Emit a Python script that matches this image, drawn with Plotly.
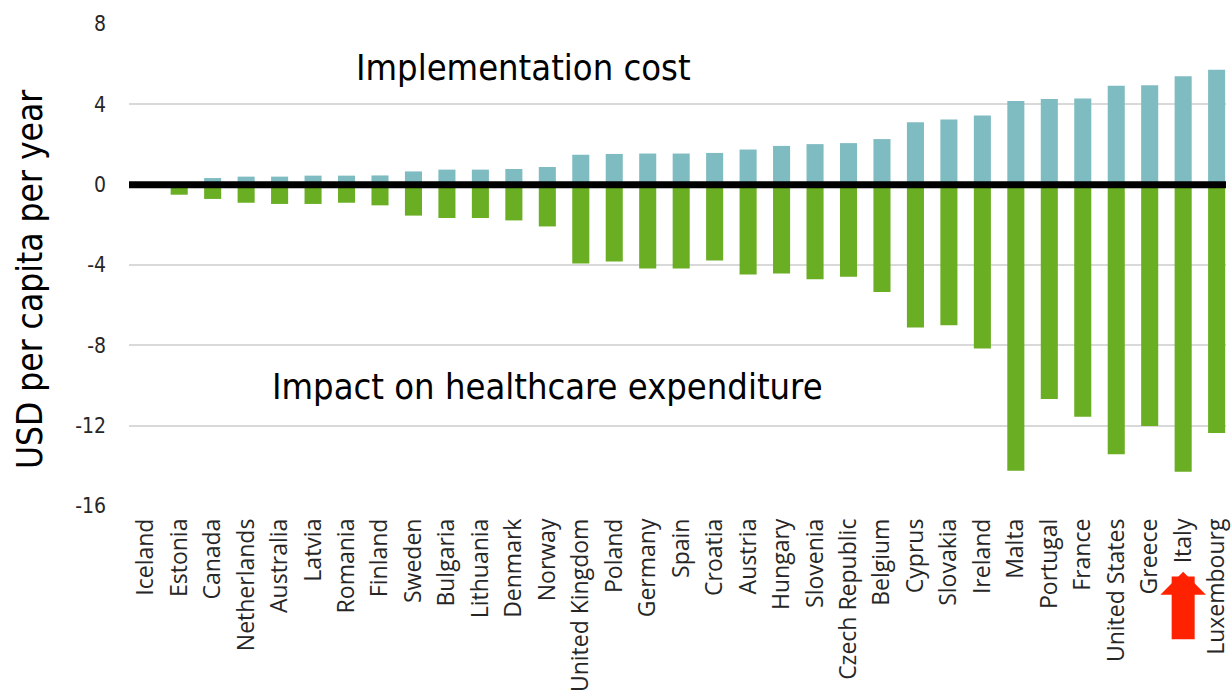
import plotly.graph_objects as go

countries = ["Iceland", "Estonia", "Canada", "Netherlands", "Australia", "Latvia", "Romania",
             "Finland", "Sweden", "Bulgaria", "Lithuania", "Denmark", "Norway", "United Kingdom",
             "Poland", "Germany", "Spain", "Croatia", "Austria", "Hungary", "Slovenia",
             "Czech Republic", "Belgium", "Cyprus", "Slovakia", "Ireland", "Malta", "Portugal",
             "France", "United States", "Greece", "Italy", "Luxembourg"]

implementation_cost = [0.05, 0.1, 0.33, 0.4, 0.4, 0.45, 0.45, 0.46, 0.66, 0.75, 0.75, 0.78, 0.88,
                       1.49, 1.53, 1.55, 1.55, 1.58, 1.75, 1.93, 2.02, 2.07, 2.27, 3.11, 3.25,
                       3.45, 4.16, 4.26, 4.29, 4.92, 4.95, 5.4, 5.72]

healthcare_impact = [-0.08, -0.5, -0.71, -0.9, -0.96, -0.96, -0.9, -1.03, -1.54, -1.66, -1.66,
                     -1.78, -2.08, -3.93, -3.83, -4.17, -4.17, -3.78, -4.47, -4.42, -4.71,
                     -4.59, -5.35, -7.11, -7.0, -8.16, -14.25, -10.67, -11.55, -13.42, -12.02,
                     -14.3, -12.36]

y_ticks = [-16, -12, -8, -4, 0, 4, 8]

TEAL = "#7fbcc2"
GREEN = "#6aae23"
COND = "DejaVu Sans Condensed, DejaVu Sans, sans-serif"

fig = go.Figure()
fig.add_trace(go.Bar(x=countries, y=implementation_cost, name="Implementation cost",
                     marker=dict(color=TEAL, line=dict(width=0))))
fig.add_trace(go.Bar(x=countries, y=healthcare_impact, name="Impact on healthcare expenditure",
                     marker=dict(color=GREEN, line=dict(width=0))))

fig.update_layout(
    width=1231, height=692,
    barmode="relative", bargap=0.49,
    showlegend=False,
    plot_bgcolor="white", paper_bgcolor="white",
    margin=dict(l=129, r=0, t=23, b=185),
    xaxis=dict(range=[-0.5, 32.28], tickangle=-90, showgrid=False, zeroline=False,
               showline=False, ticks="",
               tickfont=dict(family="Open Sans, sans-serif", size=23, color="#262626"),
               ticklabelstandoff=6),
    yaxis=dict(range=[-16.05, 8.05], tickvals=y_ticks, ticktext=[str(v) for v in y_ticks],
               showgrid=True, gridcolor="#d9d9d9", gridwidth=1.5, zeroline=False,
               showline=False, ticks="",
               tickfont=dict(family=COND, size=21, color="#262626"),
               ticklabelstandoff=22),
    shapes=[dict(type="line", xref="paper", yref="y", x0=0, x1=1, y0=0, y1=0,
                 line=dict(color="black", width=7), layer="above")],
    annotations=[
        dict(x=0, xref="paper", xshift=-99, y=0.469, yref="paper", text="USD per capita per year",
             textangle=-90, showarrow=False, xanchor="center", yanchor="middle",
             font=dict(family=COND, size=35, color="#000000")),
        dict(x=11.28, y=5.81, xref="x", yref="y", text="Implementation cost",
             showarrow=False, font=dict(family=COND, size=36, color="#000000")),
        dict(x=12.0, y=-10.07, xref="x", yref="y", text="Impact on healthcare expenditure",
             showarrow=False, font=dict(family=COND, size=36, color="#000000")),
        dict(x="Italy", xref="x", y=-0.134, yref="paper", text="", showarrow=True,
             ax=0, ay=69, arrowhead=1, arrowwidth=23, arrowsize=0.33, arrowcolor="#ff2200"),
    ],
)

fig.write_html("out.html", config={"displayModeBar": False},
               post_script="document.body.style.margin='0';")
